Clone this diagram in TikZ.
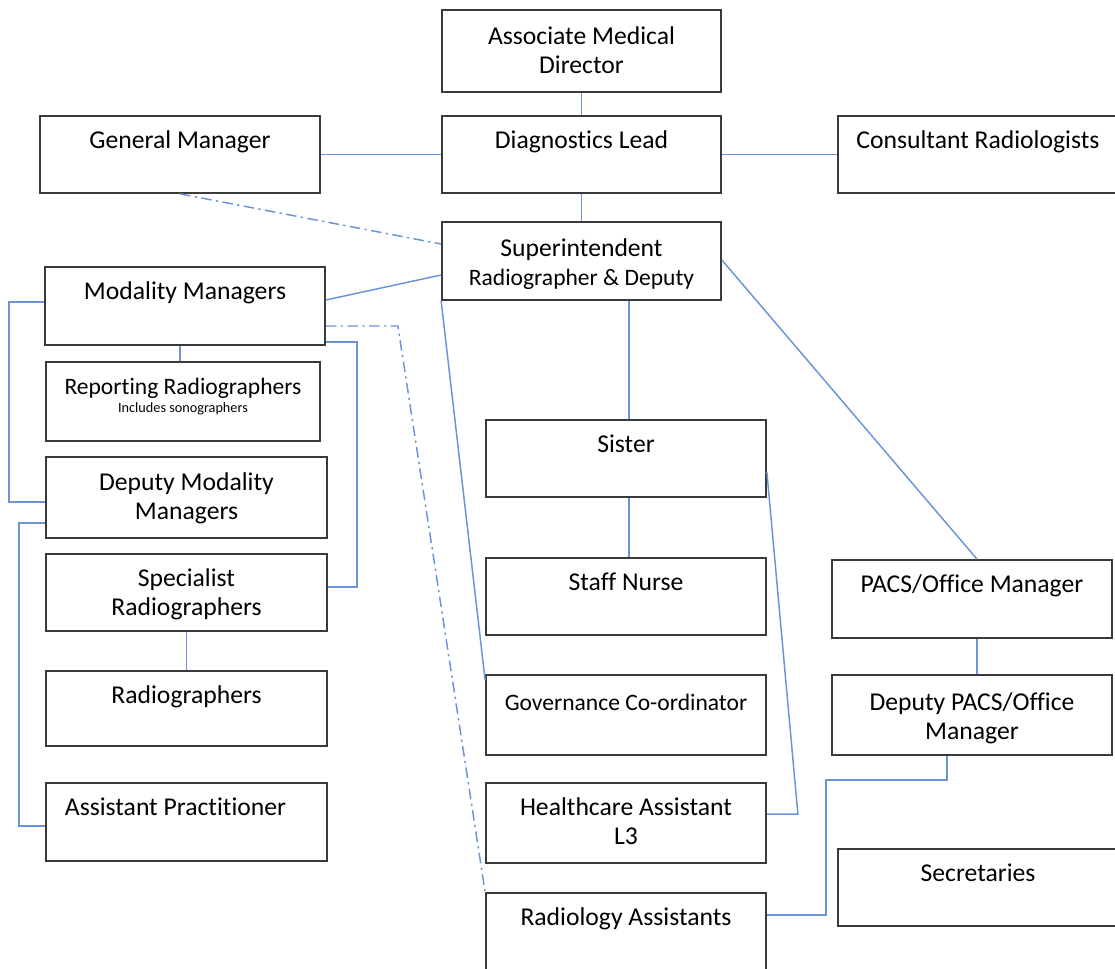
\documentclass[tikz,border=0pt]{standalone}
\usepackage{xcolor}
\usepackage{tikz}
\usepackage{fontspec}
\setmainfont{Carlito}[Ligatures={NoCommon}]
\usetikzlibrary{
  positioning,
  calc
}
\definecolor{orgLine}{HTML}{6A96D8}
\definecolor{orgBox}{HTML}{3A3A3A}
\newcommand{\orgfont}{\fontsize{14.6}{16.5}\selectfont}
\newcommand{\smallorg}{\fontsize{8.1}{9}\selectfont}
\newcommand{\govfont}{\fontsize{13.4}{16.5}\selectfont}
% box from (x1,y1) to (x2,y2), text at the top
\newcommand{\orgbox}[7][]{%
  \node[box, minimum width={(#5-#3)*0.02cm}, minimum height={(#6-#4)*0.02cm},
    label={[txt,#1]north:{\strut #7}}] (#2) at ({(#3+#5)/2},{(#4+#6)/2}) {};}
\tikzset{
  box/.style={draw=orgBox, line width=1pt, inner sep=0pt},
  txt/.style={font=\orgfont, align=center, anchor=north, inner sep=7.4pt},
  link/.style={draw=orgLine, line width=0.85pt},
  softlink/.style={link, dash pattern=on 6pt off 2.5pt on 1.3pt off 2.5pt}
}

\begin{document}
\begin{tikzpicture}[x=0.02cm, y=-0.02cm]
  \useasboundingbox (0,0) rectangle (1115,969);
  \clip (0,0) rectangle (1115,969);
  % top row
  \orgbox[inner sep=8.6pt]{amd}{442}{10}{721}{92}{Associate Medical\\Director}
  \orgbox{gm}{40}{116}{320}{193}{General Manager}
  \orgbox{dl}{442}{116}{721}{193}{Diagnostics Lead}
  \orgbox{cr}{838}{116}{1118}{193}{Consultant Radiologists}
  \orgbox[inner sep=8.6pt]{sup}{442}{222}{721}{300}{Superintendent\\{\govfont Radiographer \& Deputy}}
  % left column
  \orgbox{mm}{45}{267}{325}{345}{Modality Managers}
  \orgbox[font=\govfont]{rr}{46}{362}{320}{441}{Reporting Radiographers\\[-6.5pt]{\smallorg Includes sonographers}}
  \orgbox[inner sep=8pt]{dmm}{46}{457}{327}{538}{Deputy Modality\\Managers}
  \orgbox{sr}{46}{554}{327}{631}{Specialist\\Radiographers}
  \orgbox{rad}{46}{671}{327}{746}{Radiographers}
  \orgbox[xshift=-0.22cm]{ap}{46}{783}{327}{861}{Assistant Practitioner}
  % middle column
  \orgbox{sister}{486}{420}{766}{497}{Sister}
  \orgbox{sn}{486}{558}{766}{635}{Staff Nurse}
  \orgbox[font=\govfont, inner sep=8.7pt]{gov}{486}{675}{766}{755}{Governance Co-ordinator}
  \orgbox{ha}{486}{783}{766}{863}{Healthcare Assistant\\L3}
  \orgbox{ra}{486}{893}{766}{975}{Radiology Assistants}
  % right column
  \orgbox{pacs}{832}{560}{1112}{638}{PACS/Office Manager}
  \orgbox[inner sep=8.9pt]{dpacs}{832}{675}{1112}{755}{Deputy PACS/Office\\Manager}
  \orgbox{sec}{838}{849}{1118}{926}{Secretaries}

  % links
  \draw[link] (amd) -- (dl);
  \draw[link] (gm) -- (dl);
  \draw[link] (dl) -- (cr);
  \draw[link] (dl) -- (sup);
  \draw[softlink] (gm.south) -- (sup.west |- 0,244);
  \draw[link] (mm.east |- 0,300) -- (sup.west |- 0,275);
  \draw[link] (mm.south -| 180,0) -- (rr.north -| 180,0);
  \draw[link] (mm.west |- 0,302) -- ++(-35,0) |- (dmm.west |- 0,502);
  \draw[link] (dmm.west |- 0,523) -- ++(-26,0) |- (ap.west |- 0,826);
  \draw[link] (mm.east |- 0,342) -- ++(31,0) |- (sr.east |- 0,587);
  \draw[softlink] (mm.east |- 0,326) -- ++(72,0) -- (ra.north west);
  \draw[link] (sr) -- (rad);
  \draw[link] (sup.south -| 629,0) -- (sister.north -| 629,0);
  \draw[link] (sup.south west) -- (gov.west |- 0,680);
  \draw[link] (sister.south -| 629,0) -- (sn.north -| 629,0);
  \draw[link] (sister.east |- 0,472) -- ++(31,342) -- (ha.east |- 0,814);
  \draw[link] (sup.east |- 0,260) -- (pacs.north -| 977,0);
  \draw[link] (pacs.south -| 977,0) -- (dpacs.north -| 977,0);
  \draw[link] (dpacs.south -| 947,0) -- ++(0,24) -- ++(-121,0) |- (ra.east |- 0,915);
\end{tikzpicture}
\end{document}
